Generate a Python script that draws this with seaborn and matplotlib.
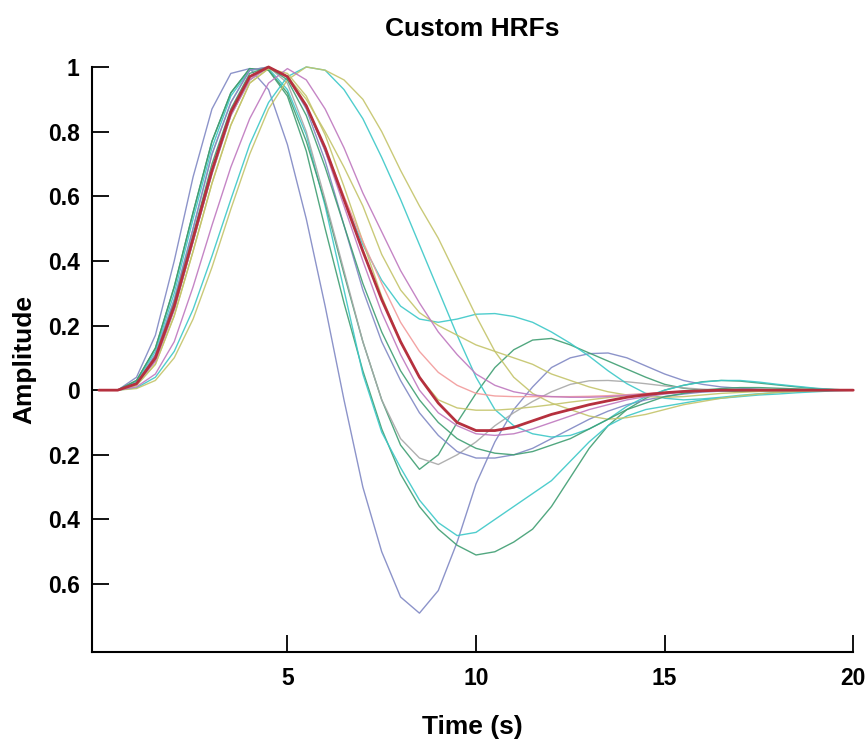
import numpy as np
import pandas as pd
import matplotlib
matplotlib.use('Agg')
import matplotlib.pyplot as plt
import seaborn as sns

# sample times (s)
time = np.arange(0, 20.5, 0.5)

# HRF curves, one value every 0.5 s
blue_deep = [0, 0.0, 0.04, 0.17, 0.40, 0.66, 0.87, 0.98, 0.995, 0.93,
             0.76, 0.53, 0.26, -0.03, -0.30, -0.50, -0.64, -0.69, -0.62, -0.47,
             -0.29, -0.16, -0.06, 0.01, 0.07, 0.10, 0.113, 0.115, 0.10, 0.075,
             0.05, 0.03, 0.018, 0.01, 0.006, 0.003, 0.001, 0, 0, 0, 0]
green_deep = [0, 0.0, 0.03, 0.13, 0.32, 0.55, 0.77, 0.92, 0.995, 0.99,
              0.91, 0.74, 0.50, 0.27, 0.06, -0.12, -0.26, -0.36, -0.43, -0.48,
              -0.51, -0.50, -0.47, -0.43, -0.36, -0.27, -0.18, -0.11, -0.06, -0.025,
              0.0, 0.015, 0.026, 0.03, 0.028, 0.022, 0.016, 0.01, 0.005, 0.002, 0]
cyan_deep = [0, 0.0, 0.025, 0.12, 0.30, 0.53, 0.75, 0.91, 0.99, 0.995,
             0.93, 0.79, 0.57, 0.31, 0.05, -0.13, -0.24, -0.34, -0.41, -0.45,
             -0.44, -0.40, -0.36, -0.32, -0.28, -0.22, -0.16, -0.11, -0.08, -0.06,
             -0.05, -0.04, -0.03, -0.025, -0.02, -0.015, -0.012, -0.008, -0.005, -0.002, 0]
green_mid = [0, 0.0, 0.03, 0.13, 0.32, 0.55, 0.77, 0.92, 0.995, 0.99,
             0.92, 0.77, 0.58, 0.36, 0.15, -0.03, -0.17, -0.245, -0.20, -0.10,
             -0.01, 0.07, 0.125, 0.155, 0.16, 0.14, 0.115, 0.09, 0.065, 0.04,
             0.018, 0.006, 0.0, -0.003, -0.004, -0.003, -0.002, -0.001, 0, 0, 0]
gray_mid = [0, 0.0, 0.02, 0.11, 0.28, 0.50, 0.73, 0.89, 0.99, 1.0,
            0.95, 0.80, 0.59, 0.37, 0.15, -0.03, -0.15, -0.21, -0.23, -0.20,
            -0.16, -0.11, -0.07, -0.035, -0.005, 0.018, 0.029, 0.03, 0.026, 0.02,
            0.013, 0.007, 0.003, 0.001, 0, 0, 0, 0, 0, 0, 0]
blue_mid = [0, 0.0, 0.02, 0.11, 0.28, 0.50, 0.73, 0.89, 0.99, 1.0,
            0.97, 0.87, 0.71, 0.51, 0.31, 0.15, 0.03, -0.07, -0.14, -0.19,
            -0.21, -0.21, -0.20, -0.18, -0.15, -0.12, -0.09, -0.065, -0.045, -0.03,
            -0.02, -0.012, -0.006, -0.003, 0, 0, 0, 0, 0, 0, 0]
cyan_shoulder = [0, 0.0, 0.02, 0.09, 0.25, 0.46, 0.67, 0.85, 0.96, 1.0,
                 0.97, 0.88, 0.74, 0.59, 0.45, 0.34, 0.26, 0.22, 0.21, 0.22,
                 0.235, 0.237, 0.228, 0.21, 0.18, 0.145, 0.105, 0.06, 0.02, -0.01,
                 -0.025, -0.03, -0.027, -0.022, -0.016, -0.011, -0.007, -0.004, -0.002, 0, 0]
cyan_late = [0, 0.0, 0.007, 0.04, 0.12, 0.25, 0.415, 0.59, 0.76, 0.89,
             0.97, 1.0, 0.99, 0.93, 0.84, 0.72, 0.59, 0.45, 0.31, 0.17,
             0.04, -0.06, -0.11, -0.135, -0.145, -0.14, -0.12, -0.09, -0.05, -0.02,
             0.0, 0.015, 0.025, 0.03, 0.03, 0.025, 0.018, 0.012, 0.006, 0.002, 0]
yellow_late = [0, 0.0, 0.005, 0.03, 0.10, 0.22, 0.38, 0.56, 0.73, 0.87,
               0.96, 1.0, 0.99, 0.96, 0.90, 0.80, 0.68, 0.57, 0.47, 0.35,
               0.23, 0.12, 0.04, -0.01, -0.04, -0.06, -0.08, -0.09, -0.085, -0.075,
               -0.06, -0.045, -0.035, -0.025, -0.018, -0.012, -0.007, -0.004, -0.002, 0, 0]
yellow_shoulder = [0, 0.0, 0.015, 0.08, 0.23, 0.43, 0.64, 0.82, 0.95, 0.995,
                   0.97, 0.90, 0.80, 0.69, 0.57, 0.42, 0.31, 0.24, 0.20, 0.17,
                   0.14, 0.12, 0.10, 0.08, 0.05, 0.03, 0.01, -0.005, -0.015, -0.02,
                   -0.022, -0.02, -0.015, -0.01, -0.007, -0.004, -0.002, 0, 0, 0, 0]
yellow_std = [0, 0.0, 0.015, 0.08, 0.23, 0.43, 0.64, 0.82, 0.95, 0.995,
              0.98, 0.91, 0.79, 0.63, 0.46, 0.29, 0.15, 0.04, -0.03, -0.055,
              -0.062, -0.062, -0.058, -0.052, -0.045, -0.037, -0.03, -0.023, -0.017, -0.012,
              -0.008, -0.005, -0.002, 0, 0, 0, 0, 0, 0, 0, 0]
pink = [0, 0.0, 0.02, 0.09, 0.25, 0.46, 0.67, 0.85, 0.96, 1.0,
        0.97, 0.88, 0.75, 0.60, 0.46, 0.33, 0.21, 0.12, 0.055, 0.015,
        -0.01, -0.018, -0.02, -0.02, -0.02, -0.02, -0.019, -0.017, -0.014, -0.01,
        -0.007, -0.004, -0.002, 0, 0, 0, 0, 0, 0, 0, 0]
magenta_a = [0, 0.0, 0.01, 0.05, 0.15, 0.32, 0.51, 0.69, 0.84, 0.95,
             0.995, 0.96, 0.87, 0.75, 0.61, 0.49, 0.37, 0.27, 0.18, 0.11,
             0.05, 0.015, -0.005, -0.015, -0.02, -0.022, -0.022, -0.02, -0.016, -0.012,
             -0.008, -0.005, -0.003, 0, 0, 0, 0, 0, 0, 0, 0]
magenta_b = [0, 0.0, 0.02, 0.09, 0.25, 0.46, 0.67, 0.85, 0.96, 1.0,
             0.97, 0.88, 0.74, 0.57, 0.40, 0.24, 0.11, 0.0, -0.07, -0.11,
             -0.135, -0.14, -0.135, -0.12, -0.10, -0.08, -0.06, -0.045, -0.03, -0.02,
             -0.012, -0.006, -0.003, 0, 0, 0, 0, 0, 0, 0, 0]
green_std = [0, 0.0, 0.02, 0.10, 0.27, 0.48, 0.70, 0.87, 0.98, 1.0,
             0.96, 0.85, 0.69, 0.51, 0.33, 0.18, 0.06, -0.03, -0.10, -0.15,
             -0.18, -0.195, -0.20, -0.19, -0.17, -0.15, -0.12, -0.09, -0.06, -0.04,
             -0.02, -0.01, 0.0, 0.005, 0.008, 0.008, 0.006, 0.004, 0.002, 0, 0]
red_mean = [0, 0.0, 0.02, 0.10, 0.26, 0.47, 0.68, 0.86, 0.97, 1.0,
            0.97, 0.88, 0.75, 0.59, 0.43, 0.28, 0.15, 0.04, -0.04, -0.10,
            -0.125, -0.125, -0.115, -0.095, -0.075, -0.06, -0.045, -0.033, -0.022, -0.014,
            -0.008, -0.004, -0.002, 0, 0, 0, 0, 0, 0, 0, 0]

curves = [
    (blue_deep, '#8088c4'), (green_deep, '#3f9e72'), (cyan_deep, '#3cc8c8'),
    (green_mid, '#3f9e72'), (gray_mid, '#a8a8a8'), (blue_mid, '#8088c4'),
    (cyan_shoulder, '#3cc8c8'), (cyan_late, '#3cc8c8'), (yellow_late, '#c4c46a'),
    (yellow_shoulder, '#c4c46a'), (yellow_std, '#c4c46a'), (pink, '#f29a9a'),
    (magenta_a, '#bf78bf'), (magenta_b, '#bf78bf'), (green_std, '#3f9e72'),
]

yticks = [1, 0.8, 0.6, 0.4, 0.2, 0, -0.2, -0.4, -0.6]
ytick_labels = ['1', '0.8', '0.6', '0.4', '0.2', '0', '0.2', '0.4', '0.6']
xticks = [5, 10, 15, 20]

sns.set_style('ticks')
plt.rcParams['font.family'] = ['Liberation Sans', 'DejaVu Sans']
plt.rcParams['text.color'] = 'black'
plt.rcParams['axes.labelcolor'] = 'black'

fig, ax = plt.subplots(figsize=(8.68, 7.4), dpi=100)
fig.subplots_adjust(left=0.106, right=0.983, top=0.9095, bottom=0.119)

for vals, col in curves:
    sns.lineplot(x=time, y=vals, color=col, linewidth=1.0, alpha=0.9, ax=ax,
                 estimator=None, sort=False, clip_on=False)
sns.lineplot(x=time, y=red_mean, color='#b5303e', linewidth=2.0, ax=ax,
             estimator=None, sort=False, clip_on=False)

ax.set_xlim(-0.18, 20)
ax.set_ylim(-0.81, 1.0)
ax.set_xticks(xticks)
ax.set_xticklabels([str(x) for x in xticks])
ax.set_yticks(yticks)
ax.set_yticklabels(ytick_labels)
ax.tick_params(direction='in', length=12, width=1.3, labelsize=16.5,
               colors='black', labelcolor='black')
ax.tick_params(axis='x', pad=11)
ax.tick_params(axis='y', pad=9)
for lbl in ax.get_xticklabels() + ax.get_yticklabels():
    lbl.set_fontweight('bold')
sns.despine(ax=ax)
for s in ['left', 'bottom']:
    ax.spines[s].set_linewidth(1.5)
    ax.spines[s].set_color('black')

ax.set_title('Custom HRFs', fontsize=19, fontweight='bold', pad=22, color='black')
ax.set_xlabel('Time (s)', fontsize=19, fontweight='bold', labelpad=18)
ax.set_ylabel('Amplitude', fontsize=19, fontweight='bold', labelpad=8)

fig.savefig('out.png', dpi=100)
